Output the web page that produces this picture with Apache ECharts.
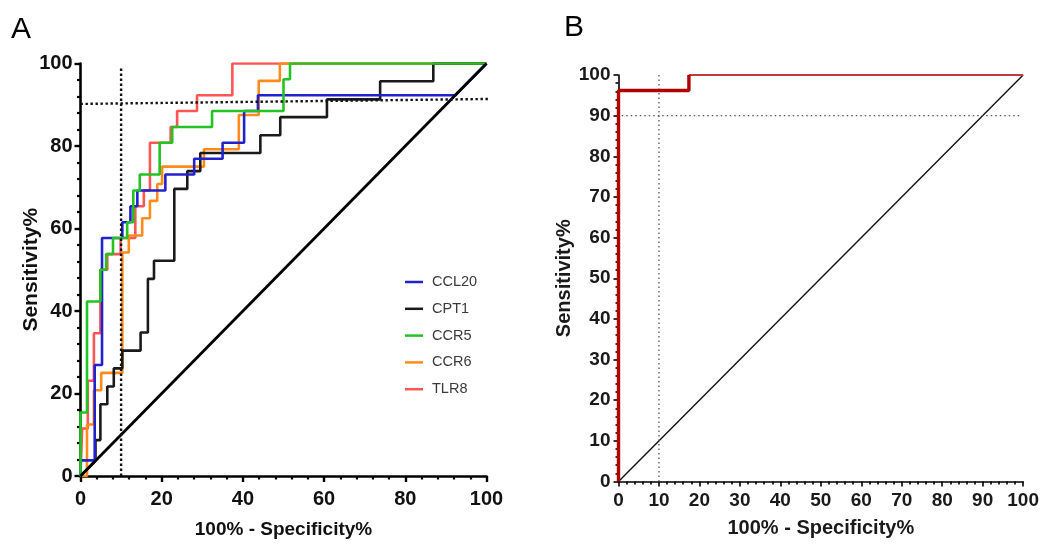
<!DOCTYPE html>
<html>
<head>
<meta charset="utf-8">
<script src="https://cdn.jsdelivr.net/npm/echarts@6/dist/echarts.min.js"></script>
<style>
html,body{margin:0;padding:0;background:#fff;}
#chart{width:1042px;height:544px;}
</style>
</head>
<body>
<div id="chart"></div>
<script>
// ---- Panel A data: ROC step curves (100% - Specificity%, Sensitivity%) ----
const ccl20 = [[0,0],[0,3.8],[3.5,3.8],[3.5,26.9],[5.3,26.9],[5.3,57.7],[10.3,57.7],[10.3,61.5],[12.3,61.5],[12.3,65.4],[14,65.4],[14,69.2],[20.9,69.2],[20.9,73.1],[28,73.1],[28,76.9],[35,76.9],[35,80.8],[40.3,80.8],[40.3,88.5],[43.7,88.5],[43.7,92.3],[92.3,92.3],[100,100]];
const cpt1 = [[0,0],[3.7,3.7],[3.7,8.7],[4.9,8.7],[4.9,17.4],[6.6,17.4],[6.6,21.7],[8.2,21.7],[8.2,26.1],[10.3,26.1],[10.3,30.4],[14.8,30.4],[14.8,34.8],[16.6,34.8],[16.6,47.8],[18.1,47.8],[18.1,52.2],[23.1,52.2],[23.1,69.6],[26.3,69.6],[26.3,73.9],[29.5,73.9],[29.5,78.3],[44.3,78.3],[44.3,82.6],[49.2,82.6],[49.2,87],[60.7,87],[60.7,91.3],[73.8,91.3],[73.8,95.7],[86.9,95.7],[86.9,100],[100,100]];
const ccr5 = [[0,0],[0,15.4],[1.6,15.4],[1.6,42.3],[4.9,42.3],[4.9,50],[6.3,50],[6.3,53.8],[8,53.8],[8,57.7],[11.5,57.7],[11.5,61.5],[13,61.5],[13,69.2],[14.6,69.2],[14.6,73.1],[19.5,73.1],[19.5,80.8],[22.6,80.8],[22.6,84.6],[32.4,84.6],[32.4,88.5],[50,88.5],[50,96.2],[51.6,96.2],[51.6,100],[100,100]];
const ccr6 = [[0,0],[1.6,0],[1.6,12.5],[3.3,12.5],[3.3,20.8],[5.1,20.8],[5.1,25],[10.3,25],[10.3,54.2],[11.9,54.2],[11.9,58.3],[15.2,58.3],[15.2,62.5],[17.1,62.5],[17.1,66.7],[18.9,66.7],[18.9,70.8],[20.1,70.8],[20.1,75],[30.4,75],[30.4,79.2],[39,79.2],[39,87.5],[43.9,87.5],[43.9,95.8],[49.1,95.8],[49.1,100],[100,100]];
const tlr8 = [[0,0],[0.4,0.4],[0.4,11.5],[1.8,11.5],[1.8,23.1],[3.3,23.1],[3.3,34.6],[4.9,34.6],[4.9,50],[6.6,50],[6.6,53.8],[9.9,53.8],[9.9,57.7],[13.5,57.7],[13.5,65.4],[15.6,65.4],[15.6,69.2],[17.1,69.2],[17.1,80.8],[22.2,80.8],[22.2,84.6],[23.8,84.6],[23.8,88.5],[28.7,88.5],[28.7,92.3],[37.4,92.3],[37.4,100],[100,100]];
const refDiagA = [[0,0],[100,100]];
const refVertA = [[10,0],[10,99.2]];
const refHorizA = [[0,90.2],[100.4,91.4]];
const seriesNamesA = ['CCL20','CPT1','CCR5','CCR6','TLR8'];

// ---- Panel B data ----
const rocBLow = [[0,0],[0,96.2],[17.4,96.2],[17.4,100]];
const rocBTop = [[17.4,100],[100,100]];
const refDiagB = [[0,0],[100,100]];
const refVertB = [[10,0],[10,100]];
const refHorizB = [[0.8,90],[99.6,90]];

const ticksA = {min:0, max:100, interval:20};
const ticksB = {min:0, max:100, interval:10};

const FONT = "'Liberation Sans', Arial, sans-serif";

function axisA(type){
  return {
    type:'value', gridIndex:0, min:ticksA.min, max:ticksA.max, interval:ticksA.interval,
    axisLine:{show:true, onZero:false, lineStyle:{color:'#000', width:2.6}},
    axisTick:{show:true, length:6, lineStyle:{color:'#000', width:2.4}},
    minorTick:{show:true, splitNumber:5, length:3.5, lineStyle:{color:'#000', width:2.2}},
    splitLine:{show:false},
    axisLabel:{color:'#111', fontSize:20, fontWeight:'bold', fontFamily:FONT, margin: type==='x'?13:8},
    nameLocation:'middle',
    nameMoveOverlap:false,
    nameTextStyle:{color:'#111', fontWeight:'bold', fontFamily:FONT, fontSize: type==='x'?19:21},
    name: type==='x' ? '100% - Specificity%' : 'Sensitivity%',
    nameGap: type==='x' ? 44 : 39
  };
}
function axisB(type){
  return {
    type:'value', gridIndex:1, min:ticksB.min, max:ticksB.max, interval:ticksB.interval,
    axisLine:{show:true, onZero:false, lineStyle:{color:'#000', width:1.6}},
    axisTick:{show:true, length:5, lineStyle:{color:'#000', width:1.6}},
    minorTick:{show:true, splitNumber:5, length:3, lineStyle:{color:'#000', width:1.6}},
    splitLine:{show:false},
    axisLabel:{color:'#1a1a1a', fontSize:19, fontWeight:'bold', fontFamily:FONT, margin: type==='x'?10:8},
    nameLocation:'middle',
    nameMoveOverlap:false,
    nameTextStyle:{color:'#1a1a1a', fontWeight:'bold', fontFamily:FONT, fontSize:20},
    name: type==='x' ? '100% - Specificity%' : 'Sensitivity%',
    nameGap: type==='x' ? 36.5 : 44.5
  };
}

function curve(name, data, color, z){
  return {name:name, type:'line', xAxisIndex:0, yAxisIndex:0, data:data, showSymbol:false, symbol:'none',
    lineStyle:{color:color, width:2.6}, itemStyle:{color:color}, z:z, silent:true};
}
function plain(data, xi, color, width, dash, z, clip){
  return {type:'line', xAxisIndex:xi, yAxisIndex:xi, data:data, showSymbol:false, symbol:'none',
    lineStyle:{color:color, width:width, type: dash || 'solid'}, z:z, silent:true, clip: clip!==false};
}

const colors = {CCL20:'#2222cc', CPT1:'#1a1a1a', CCR5:'#22c322', CCR6:'#ff8c1a', TLR8:'#ff5555'};

const option = {
  animation:false,
  backgroundColor:'#fff',
  grid:[
    {left:80.5, top:63.5, width:406, height:413},
    {left:618.5, top:75, width:405, height:406.5}
  ],
  xAxis:[axisA('x'), axisB('x')],
  yAxis:[axisA('y'), axisB('y')],
  legend:{
    show:true, orient:'vertical', left:405, top:274.5, padding:0,
    itemWidth:18, itemHeight:2.5, itemGap:11.8, icon:'rect',
    data:seriesNamesA,
    textStyle:{color:'#3a3a3a', fontSize:14.5, fontFamily:FONT, lineHeight:14, padding:[0,0,0,4]}
  },
  series:[
    curve('TLR8', tlr8, colors.TLR8, 2),
    curve('CCR6', ccr6, colors.CCR6, 3),
    curve('CPT1', cpt1, colors.CPT1, 4),
    curve('CCL20', ccl20, colors.CCL20, 5),
    curve('CCR5', ccr5, colors.CCR5, 6),
    plain(refDiagA, 0, '#000', 2.8, 'solid', 7),
    plain(refVertA, 0, '#111', 2.4, [2.4,2.6], 8),
    plain(refHorizA, 0, '#111', 2.4, [2.4,2.6], 8, false),
    plain(refDiagB, 1, '#111', 1.4, 'solid', 3),
    plain(refVertB, 1, '#555', 1.3, [1.5,3], 3),
    plain(refHorizB, 1, '#555', 1.3, [1.5,3], 3),
    plain(rocBTop, 1, '#c43a3a', 2.2, 'solid', 5),
    plain(rocBLow, 1, '#b00000', 3.4, 'solid', 6)
  ],
  graphic:[
    {type:'text', left:11, top:15, style:{text:'A', fontSize:30, fontFamily:FONT, fill:'#000'}},
    {type:'text', left:564, top:13, style:{text:'B', fontSize:30, fontFamily:FONT, fill:'#000'}}
  ]
};

const chart = echarts.init(document.getElementById('chart'), null, {renderer:'canvas'});
chart.setOption(option);
</script>
</body>
</html>
